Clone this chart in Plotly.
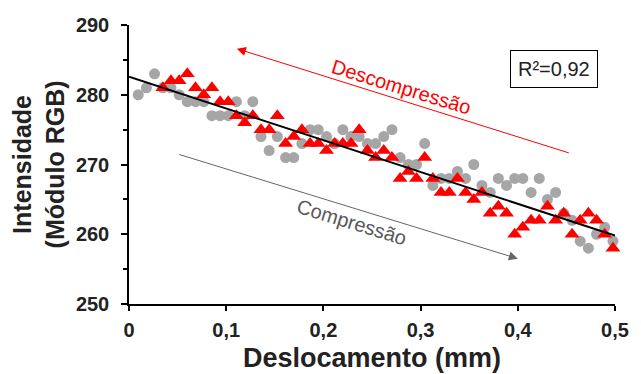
import plotly.graph_objects as go

# Displacement grid (mm) for gray (compression) points
x_compressao = [0.0095, 0.0179, 0.0263, 0.0348, 0.0432, 0.0516, 0.0600, 0.0684, 0.0769, 0.0853,
                0.0937, 0.1021, 0.1105, 0.1190, 0.1274, 0.1358, 0.1442, 0.1526, 0.1611, 0.1695,
                0.1779, 0.1863, 0.1947, 0.2032, 0.2116, 0.2200, 0.2284, 0.2368, 0.2453, 0.2537,
                0.2621, 0.2705, 0.2789, 0.2874, 0.2958, 0.3042, 0.3126, 0.3210, 0.3295, 0.3379,
                0.3463, 0.3547, 0.3631, 0.3716, 0.3800, 0.3884, 0.3968, 0.4052, 0.4137, 0.4221,
                0.4305, 0.4389, 0.4473, 0.4558, 0.4642, 0.4726, 0.4810, 0.4894, 0.4979]
y_compressao = [280, 281, 283, 281, 281, 280, 279, 279, 279, 277,
                277, 277, 279, 277, 279, 274, 272, 274, 271, 271,
                273, 275, 275, 274, 273, 275, 274, 274, 273, 273,
                274, 275, 271, 270, 270, 273, 267, 268, 268, 269,
                268, 270, 267, 266, 268, 267, 268, 268, 266, 268,
                265, 266, 263, 262, 259, 258, 260, 261, 259]

# Red (decompression) points
x_descompressao = [0.0348, 0.0432, 0.0516, 0.0600, 0.0684, 0.0769, 0.0853,
                   0.0937, 0.1021, 0.1105, 0.1190, 0.1274, 0.1358, 0.1442, 0.1526, 0.1611, 0.1695,
                   0.1779, 0.1863, 0.1947, 0.2032, 0.2116, 0.2200, 0.2284, 0.2368, 0.2453, 0.2537,
                   0.2621, 0.2705, 0.2789, 0.2874, 0.2958, 0.3042, 0.3126, 0.3210, 0.3295, 0.3379,
                   0.3463, 0.3547, 0.3631, 0.3716, 0.3800, 0.3884, 0.3968, 0.4052, 0.4137, 0.4221,
                   0.4305, 0.4389, 0.4473, 0.4558, 0.4642, 0.4726, 0.4810, 0.4894, 0.4979]
y_descompressao = [281, 282, 282, 283, 281, 280, 281,
                   279, 279, 277, 276, 277, 275, 275, 277, 273, 274,
                   275, 273, 273, 272, 273, 273, 273, 275, 272, 271,
                   272, 271, 268, 269, 268, 271, 268, 266, 266, 268,
                   266, 265, 266, 263, 264, 263, 260, 261, 262, 262,
                   264, 262, 263, 260, 262, 263, 262, 260, 258]

# Linear trend line endpoints
trend_x = [0.0, 0.5]
trend_y = [282.6, 259.8]

r2_text = "R²=0,92"

FONT = "Liberation Sans, Arial, sans-serif"
DARK = "#222222"

fig = go.Figure()
fig.add_trace(go.Scatter(x=x_compressao, y=y_compressao, mode="markers",
                         marker=dict(symbol="circle", size=11, color="#a6a6a6"),
                         cliponaxis=False, showlegend=False))
fig.add_trace(go.Scatter(x=x_descompressao, y=y_descompressao, mode="markers",
                         marker=dict(symbol="triangle-up", size=13, color="#ff0000"),
                         cliponaxis=False, showlegend=False))
fig.add_trace(go.Scatter(x=trend_x, y=trend_y, mode="lines",
                         line=dict(color="black", width=2),
                         cliponaxis=False, showlegend=False))

annotations = [
    # Red arrow (decompression)
    dict(x=0.111, y=286.6, ax=0.454, ay=271.6, xref="x", yref="y", axref="x", ayref="y",
         text="", showarrow=True, arrowhead=2, arrowsize=1.8, arrowwidth=1, arrowcolor="#ff0000"),
    dict(x=0.280, y=281.1, xref="x", yref="y", text="Descompressão", showarrow=False,
         xanchor="center", yanchor="middle",
         textangle=17, font=dict(family=FONT, size=20, color="#ff0000")),
    # Gray arrow (compression)
    dict(x=0.4, y=256.5, ax=0.0502, ay=271.5, xref="x", yref="y", axref="x", ayref="y",
         text="", showarrow=True, arrowhead=2, arrowsize=1.8, arrowwidth=1, arrowcolor="#666666"),
    dict(x=0.2285, y=261.7, xref="x", yref="y", text="Compressão", showarrow=False,
         xanchor="center", yanchor="middle",
         textangle=17, font=dict(family=FONT, size=20, color="#595959")),
    # R² box
    dict(x=0.437, y=283.7, xref="x", yref="y", text=r2_text, showarrow=False,
         xanchor="center", yanchor="middle",
         bordercolor="black", borderwidth=1, borderpad=7, bgcolor="white",
         font=dict(family=FONT, size=20, color=DARK)),
    # Axis titles
    dict(x=-0.1853, y=0.5, xref="paper", yref="paper",
         text="<b>Intensidade</b><br><b>(Módulo RGB)</b>",
         xanchor="center", yanchor="middle",
         showarrow=False, textangle=-90, font=dict(family=FONT, size=25, color=DARK)),
    dict(x=0.5, y=-0.195, xref="paper", yref="paper", text="<b>Deslocamento (mm)</b>",
         xanchor="center", yanchor="middle",
         showarrow=False, font=dict(family=FONT, size=27, color=DARK)),
]

fig.update_layout(
    width=641, height=374,
    margin=dict(l=129, r=21, t=25, b=70),
    paper_bgcolor="white", plot_bgcolor="white",
    separators=",.",
    annotations=annotations,
    font=dict(family=FONT, color=DARK),
)
fig.update_xaxes(range=[0, 0.5], dtick=0.1, showgrid=False, zeroline=False,
                 showline=True, linecolor="black", linewidth=1.5,
                 ticks="outside", ticklen=5, tickwidth=1.5, tickcolor="black",
                 ticklabelstandoff=2,
                 tickfont=dict(family=FONT, size=20, color=DARK),
                 tickprefix="<b>", ticksuffix="</b>")
fig.update_yaxes(range=[250, 290], dtick=10, showgrid=False, zeroline=False,
                 showline=True, linecolor="black", linewidth=1.5,
                 ticks="outside", ticklen=6, tickwidth=1.5, tickcolor="black",
                 minor=dict(dtick=5, ticks="outside", ticklen=4, tickwidth=1.5, tickcolor="black"),
                 ticklabelstandoff=8,
                 tickfont=dict(family=FONT, size=20, color=DARK),
                 tickprefix="<b>", ticksuffix="</b>")

fig.write_html("out.html", config={"displayModeBar": False},
               post_script="document.body.style.margin='0';document.body.style.overflow='hidden';")
